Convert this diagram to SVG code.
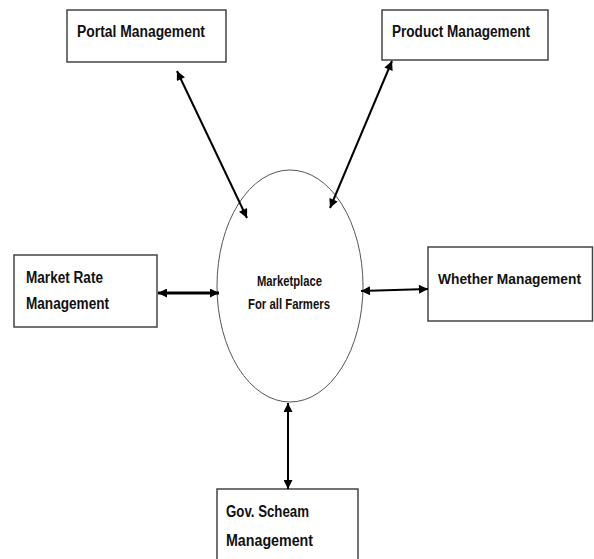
<svg xmlns="http://www.w3.org/2000/svg" width="594" height="559" viewBox="0 0 594 559">
<style>
.box{fill:#fff;stroke:#444;stroke-width:1.5}
.lbl{font-family:"Liberation Sans",Arial,sans-serif;font-weight:bold;font-size:16px;fill:#111}
.c{font-size:14px}
.conn{stroke:#000;stroke-width:2;fill:none;marker-start:url(#ah);marker-end:url(#ah)}
</style>
<defs>
<marker id="ah" viewBox="0 0 10 10" refX="10" refY="5" markerWidth="10" markerHeight="9" markerUnits="userSpaceOnUse" orient="auto-start-reverse">
<path d="M0,0 L10,5 L0,10 z" fill="#000"/>
</marker>
</defs>
<rect width="594" height="559" fill="#fff"/>
<g id="portal">
<rect class="box" x="67" y="10" width="159" height="52"/>
<text class="lbl" x="77" y="37" textLength="128" lengthAdjust="spacingAndGlyphs">Portal Management</text>
</g>
<g id="product">
<rect class="box" x="382" y="10" width="166" height="50"/>
<text class="lbl" x="392" y="37" textLength="138" lengthAdjust="spacingAndGlyphs">Product Management</text>
</g>
<g id="market">
<rect class="box" x="14" y="255" width="143" height="72"/>
<text class="lbl" x="26" y="283" textLength="77" lengthAdjust="spacingAndGlyphs">Market Rate</text>
<text class="lbl" x="26" y="309" textLength="83" lengthAdjust="spacingAndGlyphs">Management</text>
</g>
<g id="center">
<ellipse cx="290" cy="286" rx="73" ry="116" fill="#fff" stroke="#555" stroke-width="1"/>
<text class="lbl c" x="257" y="286" textLength="65" lengthAdjust="spacingAndGlyphs">Marketplace</text>
<text class="lbl c" x="248" y="309" textLength="82" lengthAdjust="spacingAndGlyphs">For all Farmers</text>
</g>
<g id="whether">
<rect class="box" x="428" y="247" width="164.5" height="74"/>
<text class="lbl" x="438" y="284" style="font-size:14.5px" textLength="143" lengthAdjust="spacingAndGlyphs">Whether Management</text>
</g>
<g id="gov">
<rect class="box" x="217" y="489" width="141" height="80"/>
<text class="lbl" x="226" y="517" textLength="83" lengthAdjust="spacingAndGlyphs">Gov. Scheam</text>
<text class="lbl" x="226" y="546" textLength="87" lengthAdjust="spacingAndGlyphs">Management</text>
</g>
<g id="connectors">
<line class="conn" x1="177" y1="71" x2="247" y2="218"/>
<line class="conn" x1="392" y1="61" x2="330" y2="208"/>
<line class="conn" x1="158" y1="293" x2="219" y2="293" style="stroke-width:3"/>
<line class="conn" x1="361" y1="291" x2="428" y2="289"/>
<line class="conn" x1="288" y1="403" x2="288" y2="489"/>
</g>
</svg>
